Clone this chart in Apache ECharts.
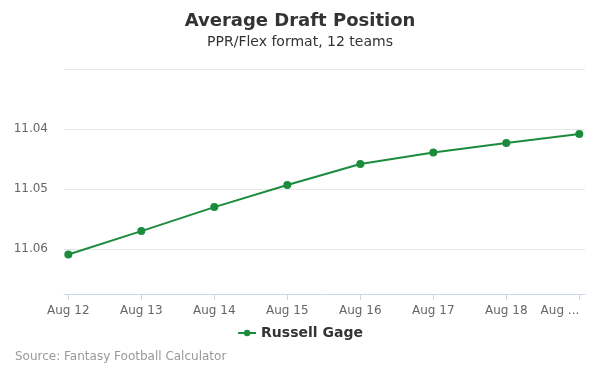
<!DOCTYPE html>
<html>
<head>
<meta charset="utf-8">
<script src="https://cdn.jsdelivr.net/npm/echarts@6/dist/echarts.min.js"></script>
<style>html,body{margin:0;padding:0;background:#fff}#c{width:600px;height:375px}</style>
</head>
<body>
<div id="c"></div>
<script>
var categories = ["Aug 12","Aug 13","Aug 14","Aug 15","Aug 16","Aug 17","Aug 18","Aug 19"];
var tickLabels = ["Aug 12","Aug 13","Aug 14","Aug 15","Aug 16","Aug 17","Aug 18","Aug ..."];
var adpValues = [11.0609, 11.0570, 11.0530, 11.0493, 11.0458, 11.0439, 11.0423, 11.0408];
var seriesName = "Russell Gage";

var font = "DejaVu Sans, sans-serif";
var chart = echarts.init(document.getElementById('c'));
var idx = categories.map(function(_, i){ return i; });
chart.setOption({
  animation: false,
  title: [
    {text: "Average Draft Position", left: 'center', top: 7, textStyle: {fontFamily: font, fontSize: 18, fontWeight: 'bold', color: '#333'}},
    {text: "PPR/Flex format, 12 teams", left: 'center', top: 30, textStyle: {fontFamily: font, fontSize: 14, fontWeight: 'normal', color: '#333'}},
    {text: "Source: Fantasy Football Calculator", left: 10, top: 346, textStyle: {fontFamily: font, fontSize: 12, fontWeight: 'normal', color: '#999'}}
  ],
  legend: {
    data: [seriesName], left: 'center', top: 321, itemWidth: 18, itemHeight: 8, itemGap: 5,
    textStyle: {fontFamily: font, fontSize: 14, fontWeight: 'bold', color: '#333'}
  },
  grid: {left: 64, right: 15, top: 69.3, bottom: 81, containLabel: false},
  xAxis: {
    type: 'value', min: -0.059, max: 7.078,
    axisLine: {show: true, lineStyle: {color: '#ccd6eb'}},
    axisTick: {show: true, length: 6, customValues: idx, lineStyle: {color: '#ccd6eb'}},
    splitLine: {show: false},
    axisLabel: {customValues: idx, margin: 11, fontFamily: font, fontSize: 12, color: '#666', alignMaxLabel: 'right',
      formatter: function(v){ return tickLabels[Math.round(v)]; }}
  },
  yAxis: {
    type: 'value', inverse: true, min: 11.03, max: 11.0675, interval: 0.01,
    axisLine: {show: false}, axisTick: {show: false},
    splitLine: {lineStyle: {color: '#e6e6e6'}},
    axisLabel: {margin: 16, fontFamily: font, fontSize: 12, color: '#666', showMinLabel: false, showMaxLabel: false,
      formatter: function(v){ return v.toFixed(2); }}
  },
  series: [{
    name: seriesName, type: 'line',
    data: adpValues.map(function(v, i){ return [i, v]; }),
    symbol: 'circle', symbolSize: 8,
    lineStyle: {color: '#1b8c3c', width: 2},
    itemStyle: {color: '#1b8c3c'}
  }]
});
</script>
</body>
</html>
